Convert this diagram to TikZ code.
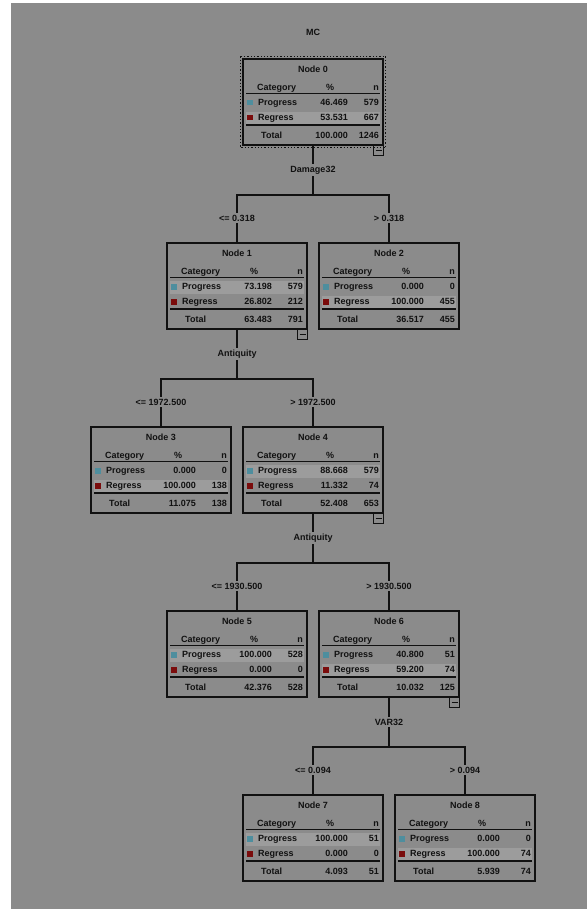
\documentclass[tikz,border=0pt]{standalone}
\usepackage{fontspec}
\setmainfont{Liberation Sans}
\usetikzlibrary{calc}
\definecolor{bg}{HTML}{8B8B8B}
\definecolor{rowshade}{HTML}{9C9C9C}
\definecolor{ink}{HTML}{111111}
\definecolor{progc}{HTML}{4E8E9E}
\definecolor{regc}{HTML}{7A0C0C}
\tikzset{
  treebox/.style={draw=ink, line width=1.4pt, minimum width=140pt, minimum height=86pt, inner sep=0pt},
  txt/.style={inner sep=0pt, text=ink, text height=6.5pt, text depth=1.8pt, font=\fontsize{9}{10}\selectfont\bfseries},
  sepline/.style={draw=ink, line width=1.4pt},
  conn/.style={draw=ink, line width=1.4pt},
  lbl/.style={fill=bg, inner sep=1.5pt, text=ink, font=\fontsize{9}{10}\selectfont\bfseries},
  marker/.style={draw=ink, line width=1pt},
}
% #1 name, #2 centre x, #3 top y, #4 node number, #5 progress %, #6 progress n, #7 regress %, #8 regress n, #9 total %
\newcommand{\treenode}[9]{%
  \begin{scope}[shift={({#2-70},#3)}]
    \ifnum#6>#8\relax
      \fill[rowshade] (3,38) rectangle (137,51);
    \else
      \fill[rowshade] (3,53) rectangle (137,65);
    \fi
    \node[treebox] (#1) at (70,43) {};
    \node[txt] (#1t) at (70,11) {Node #4};
    \node[txt, anchor=west] (#1hc) at (14,29) {Category};
    \node[txt] (#1hp) at (87,29) {\%};
    \node[txt, anchor=east] (#1hn) at (136,29) {n};
    \draw[sepline] (3,34.5) -- (137,34.5);
    \fill[progc] (4,41) rectangle (9.5,46.5);
    \node[txt, anchor=west] (#1pl) at (15,44.5) {Progress};
    \node[txt, anchor=east] (#1pp) at (105,44.5) {#5};
    \node[txt, anchor=east] (#1pn) at (136,44.5) {#6};
    \fill[regc] (4,56) rectangle (9.5,61.5);
    \node[txt, anchor=west] (#1rl) at (15,59.5) {Regress};
    \node[txt, anchor=east] (#1rp) at (105,59.5) {#7};
    \node[txt, anchor=east] (#1rn) at (136,59.5) {#8};
    \draw[sepline] (3,66) -- (137,66);
    \node[txt, anchor=west] (#1tl) at (18,77.5) {Total};
    \node[txt, anchor=east] (#1tp) at (105,77.5) {#9};
    \node[txt, anchor=east] (#1tn) at (136,77.5) {\the\numexpr#6+#8\relax};
  \end{scope}}
\newcommand{\collapsemark}[1]{%
  \draw[marker] ($(#1.south east)+(-10,0)$) rectangle ($(#1.south east)+(0,10)$);
  \draw[marker] ($(#1.south east)+(-8,5)$) -- ($(#1.south east)+(-2,5)$);}
\begin{document}
\begin{tikzpicture}[x=1pt,y=-1pt]
\useasboundingbox (0,0) rectangle (587,909);
\fill[white] (0,0) rectangle (587,909);
\fill[bg] (11,3) rectangle (587,909);

\node[txt] (title) at (313,33) {MC};

% tree nodes
\treenode{n0}{313}{59}{0}{46.469}{579}{53.531}{667}{100.000}
\treenode{n1}{237}{243}{1}{73.198}{579}{26.802}{212}{63.483}
\treenode{n2}{389}{243}{2}{0.000}{0}{100.000}{455}{36.517}
\treenode{n3}{161}{427}{3}{0.000}{0}{100.000}{138}{11.075}
\treenode{n4}{313}{427}{4}{88.668}{579}{11.332}{74}{52.408}
\treenode{n5}{237}{611}{5}{100.000}{528}{0.000}{0}{42.376}
\treenode{n6}{389}{611}{6}{40.800}{51}{59.200}{74}{10.032}
\treenode{n7}{313}{795}{7}{100.000}{51}{0.000}{0}{4.093}
\treenode{n8}{465}{795}{8}{0.000}{0}{100.000}{74}{5.939}

% selection frame of node 0
\draw[ink, line width=1.3pt, dotted] ($(n0.north west)+(-2,-2)$) rectangle ($(n0.south east)+(2,2)$);

% collapse markers
\collapsemark{n0}
\collapsemark{n1}
\collapsemark{n4}
\collapsemark{n6}

% connectors
\coordinate (h0) at (313,195);
\coordinate (h1) at (237,379);
\coordinate (h2) at (313,563);
\coordinate (h3) at (389,747);
\draw[conn] (n0.south) -- (h0);
\draw[conn] (h0) -| (n1.north);
\draw[conn] (h0) -| (n2.north);
\draw[conn] (n1.south) -- (h1);
\draw[conn] (h1) -| (n3.north);
\draw[conn] (h1) -| (n4.north);
\draw[conn] (n4.south) -- (h2);
\draw[conn] (h2) -| (n5.north);
\draw[conn] (h2) -| (n6.north);
\draw[conn] (n6.south) -- (h3);
\draw[conn] (h3) -| (n7.north);
\draw[conn] (h3) -| (n8.north);

% split and branch labels
\node[lbl] (s0) at (313,170) {Damage32};
\node[lbl] (b1) at (237,218) {<= 0.318};
\node[lbl] (b2) at (389,218) {> 0.318};
\node[lbl] (s1) at (237,354) {Antiquity};
\node[lbl] (b3) at (161,402) {<= 1972.500};
\node[lbl] (b4) at (313,402) {> 1972.500};
\node[lbl] (s2) at (313,538) {Antiquity};
\node[lbl] (b5) at (237,586) {<= 1930.500};
\node[lbl] (b6) at (389,586) {> 1930.500};
\node[lbl] (s3) at (389,722) {VAR32};
\node[lbl] (b7) at (313,770) {<= 0.094};
\node[lbl] (b8) at (465,770) {> 0.094};
\end{tikzpicture}
\end{document}
